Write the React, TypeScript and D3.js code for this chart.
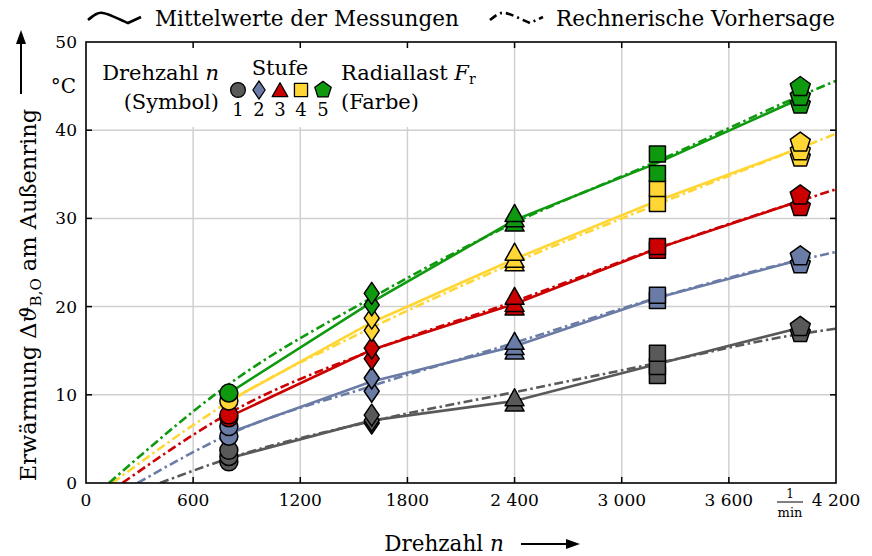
import React, { useEffect, useRef } from 'react';
import * as d3 from 'd3';

// speeds (x) and load stages
const speeds = [800, 1600, 2400, 3200, 4000];
const stageColors = ['#595959', '#6a7ca6', '#cc0000', '#ffd633', '#0e990e'];
const speedSymbols = ['circle', 'diamond', 'triangle', 'square', 'pentagon'];
const xTicks = [0, 600, 1200, 1800, 2400, 3000, 3600, 4200];
const xTickLabels = ['0', '600', '1200', '1800', '2 400', '3 000', '3 600', '4 200'];
const yTicks = [0, 10, 20, 30, 40, 50];

// single measurements per stage, grouped by speed
const meas1 = [[3.7, 3.0, 2.4], [7.7, 7.1, 6.8], [9.4, 8.8], [14.7, 13.2, 12.2], [17.7, 17.0]];
const meas2 = [[6.4, 5.3], [11.9, 10.4], [15.8, 15.2, 14.7], [21.3, 20.7], [25.7, 24.8]];
const meas3 = [[7.7, 7.4], [15.3, 14.1], [20.9, 20.1, 19.7], [26.8, 26.4], [32.6, 31.3]];
const meas4 = [[9.3], [18.7, 17.3], [25.9, 25.1, 24.7], [33.4, 31.7], [38.6, 37.6, 36.9]];
const meas5 = [[10.2], [21.5, 20.2], [30.3, 29.7, 29.2], [37.3, 35.1], [44.9, 43.8, 42.9]];

// mean values (solid lines)
const mean1 = [2.8, 7.1, 9.3, 13.5, 17.6];
const mean2 = [5.7, 11.5, 15.5, 21.0, 25.3];
const mean3 = [7.5, 15.1, 20.3, 26.6, 32.0];
const mean4 = [9.3, 18.2, 25.4, 32.0, 38.0];
const mean5 = [10.2, 20.5, 29.8, 36.3, 43.6];

// calculated prediction (dash-dot lines)
const predN1 = [415, 800, 1600, 2400, 3200, 4000, 4200];
const pred1 = [0, 2.8, 7.0, 10.3, 13.6, 16.9, 17.5];
const predN2 = [289, 800, 1600, 2400, 3200, 4000, 4200];
const pred2 = [0, 5.5, 11.0, 15.9, 21.0, 25.3, 26.2];
const predN3 = [204, 800, 1600, 2400, 3200, 4000, 4200];
const pred3 = [0, 7.9, 15.0, 20.6, 26.6, 32.0, 33.3];
const predN4 = [148, 800, 1600, 2400, 3200, 4000, 4200];
const pred4 = [0, 9.2, 17.6, 25.0, 31.6, 38.0, 39.6];
const predN5 = [129, 800, 1600, 2400, 3200, 4000, 4200];
const pred5 = [0, 11.2, 21.0, 29.5, 36.5, 43.9, 45.6];

const measured = [meas1, meas2, meas3, meas4, meas5];
const means = [mean1, mean2, mean3, mean4, mean5];
const predN = [predN1, predN2, predN3, predN4, predN5];
const preds = [pred1, pred2, pred3, pred4, pred5];

const W = 872, H = 556;
const FONT = '"DejaVu Serif", serif';

function markerPath(kind: string, cx: number, cy: number, s: number) {
  // s = scale factor, 1 = plot marker size
  if (kind === 'circle') {
    const r = 9 * s;
    return `M${cx - r},${cy}a${r},${r} 0 1,0 ${2 * r},0a${r},${r} 0 1,0 ${-2 * r},0Z`;
  }
  if (kind === 'diamond') {
    const w = 7.5 * s, h = 11 * s;
    return `M${cx},${cy - h}L${cx + w},${cy}L${cx},${cy + h}L${cx - w},${cy}Z`;
  }
  if (kind === 'triangle') {
    const w = 9.5 * s, h = 17 * s;
    return `M${cx},${cy - h * 2 / 3}L${cx + w},${cy + h / 3}L${cx - w},${cy + h / 3}Z`;
  }
  if (kind === 'square') {
    const a = 8 * s;
    return `M${cx - a},${cy - a}h${2 * a}v${2 * a}h${-2 * a}Z`;
  }
  const r = 10.5 * s;
  const pts = d3.range(5).map(i => {
    const a = -Math.PI / 2 + i * 2 * Math.PI / 5;
    return [cx + r * Math.cos(a), cy + r * Math.sin(a)];
  });
  return 'M' + pts.map(p => p.join(',')).join('L') + 'Z';
}

function Chart() {
  const ref = useRef<SVGSVGElement>(null);

  useEffect(() => {
    const svg = d3.select(ref.current);
    svg.selectAll('*').remove();

    const x = d3.scaleLinear().domain([0, 4200]).range([86, 836]);
    const y = d3.scaleLinear().domain([0, 50]).range([483, 42]);

    const g = svg.append('g').attr('font-family', FONT).attr('fill', '#000');

    // grid
    g.append('g').selectAll('line.gx')
      .data(xTicks.slice(1, -1))
      .enter().append('line')
      .attr('x1', d => x(d)).attr('x2', d => x(d))
      .attr('y1', y(0)).attr('y2', y(50))
      .attr('stroke', '#d0d0d0').attr('stroke-width', 1.5);
    g.append('g').selectAll('line.gy')
      .data(yTicks.slice(1, -1))
      .enter().append('line')
      .attr('x1', x(0)).attr('x2', x(4200))
      .attr('y1', d => y(d)).attr('y2', d => y(d))
      .attr('stroke', '#d0d0d0').attr('stroke-width', 1.5);

    // legend background inside the plot
    g.append('rect')
      .attr('x', x(0) + 1).attr('y', y(50) + 1)
      .attr('width', 408).attr('height', 84)
      .attr('fill', '#fff');

    // prediction lines
    const clip = svg.append('defs').append('clipPath').attr('id', 'plotclip');
    clip.append('rect').attr('x', x(0)).attr('y', y(50)).attr('width', x(4200) - x(0)).attr('height', y(0) - y(50));

    const predLine = d3.line<[number, number]>()
      .x(d => x(d[0])).y(d => y(d[1]))
      .curve(d3.curveMonotoneX);
    const lines = g.append('g').attr('clip-path', 'url(#plotclip)');
    preds.forEach((p, i) => {
      lines.append('path')
        .attr('d', predLine(p.map((v, j) => [predN[i][j], v] as [number, number])))
        .attr('fill', 'none')
        .attr('stroke', stageColors[i])
        .attr('stroke-width', 2.6)
        .attr('stroke-dasharray', '9,3.5,2.5,3.5');
    });

    // mean lines
    const meanLine = d3.line<number>()
      .x((d, j) => x(speeds[j])).y(d => y(d));
    means.forEach((m, i) => {
      lines.append('path')
        .attr('d', meanLine(m))
        .attr('fill', 'none')
        .attr('stroke', stageColors[i])
        .attr('stroke-width', 2.6);
    });

    // measurement markers
    const marks = g.append('g');
    measured.forEach((stage, i) => {
      stage.forEach((vals, j) => {
        const sorted = vals.slice().sort((a, b) => a - b);
        sorted.forEach(v => {
          marks.append('path')
            .attr('d', markerPath(speedSymbols[j], x(speeds[j]), y(v), 1))
            .attr('fill', stageColors[i])
            .attr('stroke', '#000')
            .attr('stroke-width', 1.5)
            .attr('stroke-linejoin', 'round');
        });
      });
    });

    // frame and ticks
    g.append('rect')
      .attr('x', x(0)).attr('y', y(50))
      .attr('width', x(4200) - x(0)).attr('height', y(0) - y(50))
      .attr('fill', 'none').attr('stroke', '#000').attr('stroke-width', 1.6);
    xTicks.slice(1, -1).forEach(t => {
      g.append('line').attr('x1', x(t)).attr('x2', x(t)).attr('y1', y(0)).attr('y2', y(0) - 6).attr('stroke', '#000').attr('stroke-width', 1.5);
      g.append('line').attr('x1', x(t)).attr('x2', x(t)).attr('y1', y(50)).attr('y2', y(50) + 6).attr('stroke', '#000').attr('stroke-width', 1.5);
    });
    yTicks.slice(1, -1).forEach(t => {
      g.append('line').attr('x1', x(0)).attr('x2', x(0) + 6).attr('y1', y(t)).attr('y2', y(t)).attr('stroke', '#000').attr('stroke-width', 1.5);
      g.append('line').attr('x1', x(4200)).attr('x2', x(4200) - 6).attr('y1', y(t)).attr('y2', y(t)).attr('stroke', '#000').attr('stroke-width', 1.5);
    });

    // tick labels
    g.append('g').selectAll('text')
      .data(xTicks)
      .enter().append('text')
      .attr('x', d => x(d)).attr('y', 506)
      .attr('text-anchor', 'middle')
      .attr('font-size', 17)
      .text((d, i) => xTickLabels[i]);
    g.append('g').selectAll('text')
      .data(yTicks)
      .enter().append('text')
      .attr('x', 77).attr('y', d => y(d) + 6)
      .attr('text-anchor', 'end')
      .attr('font-size', 17)
      .text(d => String(d));
    g.append('text').attr('x', 76).attr('y', y(45) + 7).attr('text-anchor', 'end').attr('font-size', 20).text('°C');

    // unit 1/min
    g.append('text').attr('x', 790).attr('y', 498).attr('text-anchor', 'middle').attr('font-size', 12).text('1');
    g.append('line').attr('x1', 777).attr('x2', 803).attr('y1', 502).attr('y2', 502).attr('stroke', '#000').attr('stroke-width', 1);
    g.append('text').attr('x', 790).attr('y', 517).attr('text-anchor', 'middle').attr('font-size', 13).text('min');

    // axis titles
    const xt = g.append('text').attr('x', 444).attr('y', 551).attr('text-anchor', 'middle').attr('font-size', 21.5);
    xt.append('tspan').text('Drehzahl ');
    xt.append('tspan').attr('font-style', 'italic').text('n');
    g.append('line').attr('x1', 521).attr('x2', 570).attr('y1', 544).attr('y2', 544).attr('stroke', '#000').attr('stroke-width', 2);
    g.append('path').attr('d', 'M580,544L566,539L566,549Z').attr('fill', '#000');

    const yt = g.append('text')
      .attr('transform', 'translate(36,295) rotate(-90)')
      .attr('text-anchor', 'middle').attr('font-size', 22.5);
    yt.append('tspan').text('Erwärmung Δ');
    yt.append('tspan').attr('font-style', 'italic').text('ϑ');
    yt.append('tspan').attr('font-size', 15).attr('dy', 5).text('B,O');
    yt.append('tspan').attr('dy', -5).text(' am Außenring');
    g.append('line').attr('x1', 21).attr('x2', 21).attr('y1', 94).attr('y2', 42).attr('stroke', '#000').attr('stroke-width', 2);
    g.append('path').attr('d', 'M21,30L16,44L26,44Z').attr('fill', '#000');

    // top legend
    g.append('path')
      .attr('d', 'M88,20C94,15 98,12 103,13C110,14 120,20 128,23L141,17')
      .attr('fill', 'none').attr('stroke', '#000').attr('stroke-width', 2.6);
    g.append('text').attr('x', 155).attr('y', 26).attr('font-size', 21.5).text('Mittelwerte der Messungen');
    g.append('path')
      .attr('d', 'M490,20C496,15 500,12 505,13C512,14 522,20 530,23L543,17')
      .attr('fill', 'none').attr('stroke', '#000').attr('stroke-width', 2.6)
      .attr('stroke-dasharray', '8,4,2,4');
    g.append('text').attr('x', 556).attr('y', 26).attr('font-size', 21.5).text('Rechnerische Vorhersage');

    // inner legend
    const l1 = g.append('text').attr('x', 219).attr('y', 80).attr('text-anchor', 'end').attr('font-size', 21);
    l1.append('tspan').text('Drehzahl ');
    l1.append('tspan').attr('font-style', 'italic').text('n');
    g.append('text').attr('x', 219).attr('y', 109).attr('text-anchor', 'end').attr('font-size', 21).text('(Symbol)');
    g.append('text').attr('x', 280).attr('y', 75).attr('text-anchor', 'middle').attr('font-size', 21).text('Stufe');
    const legX = [238, 259, 280, 301, 323];
    speedSymbols.forEach((s, i) => {
      g.append('path')
        .attr('d', markerPath(s, legX[i], i === 2 ? 92 : 90, 0.82))
        .attr('fill', stageColors[i])
        .attr('stroke', '#000').attr('stroke-width', 1.3)
        .attr('stroke-linejoin', 'round');
      g.append('text').attr('x', legX[i]).attr('y', 116).attr('text-anchor', 'middle').attr('font-size', 18).text(String(i + 1));
    });
    const l3 = g.append('text').attr('x', 341).attr('y', 80).attr('font-size', 21);
    l3.append('tspan').text('Radiallast ');
    l3.append('tspan').attr('font-style', 'italic').text('F');
    l3.append('tspan').attr('font-size', 14).attr('dy', 4).text('r');
    g.append('text').attr('x', 341).attr('y', 109).attr('font-size', 21).text('(Farbe)');
  }, []);

  return <svg ref={ref} width={W} height={H} style={{ position: 'absolute', left: 0, top: 0, background: '#fff' }} />;
}

export default function App() {
  return <Chart />;
}
